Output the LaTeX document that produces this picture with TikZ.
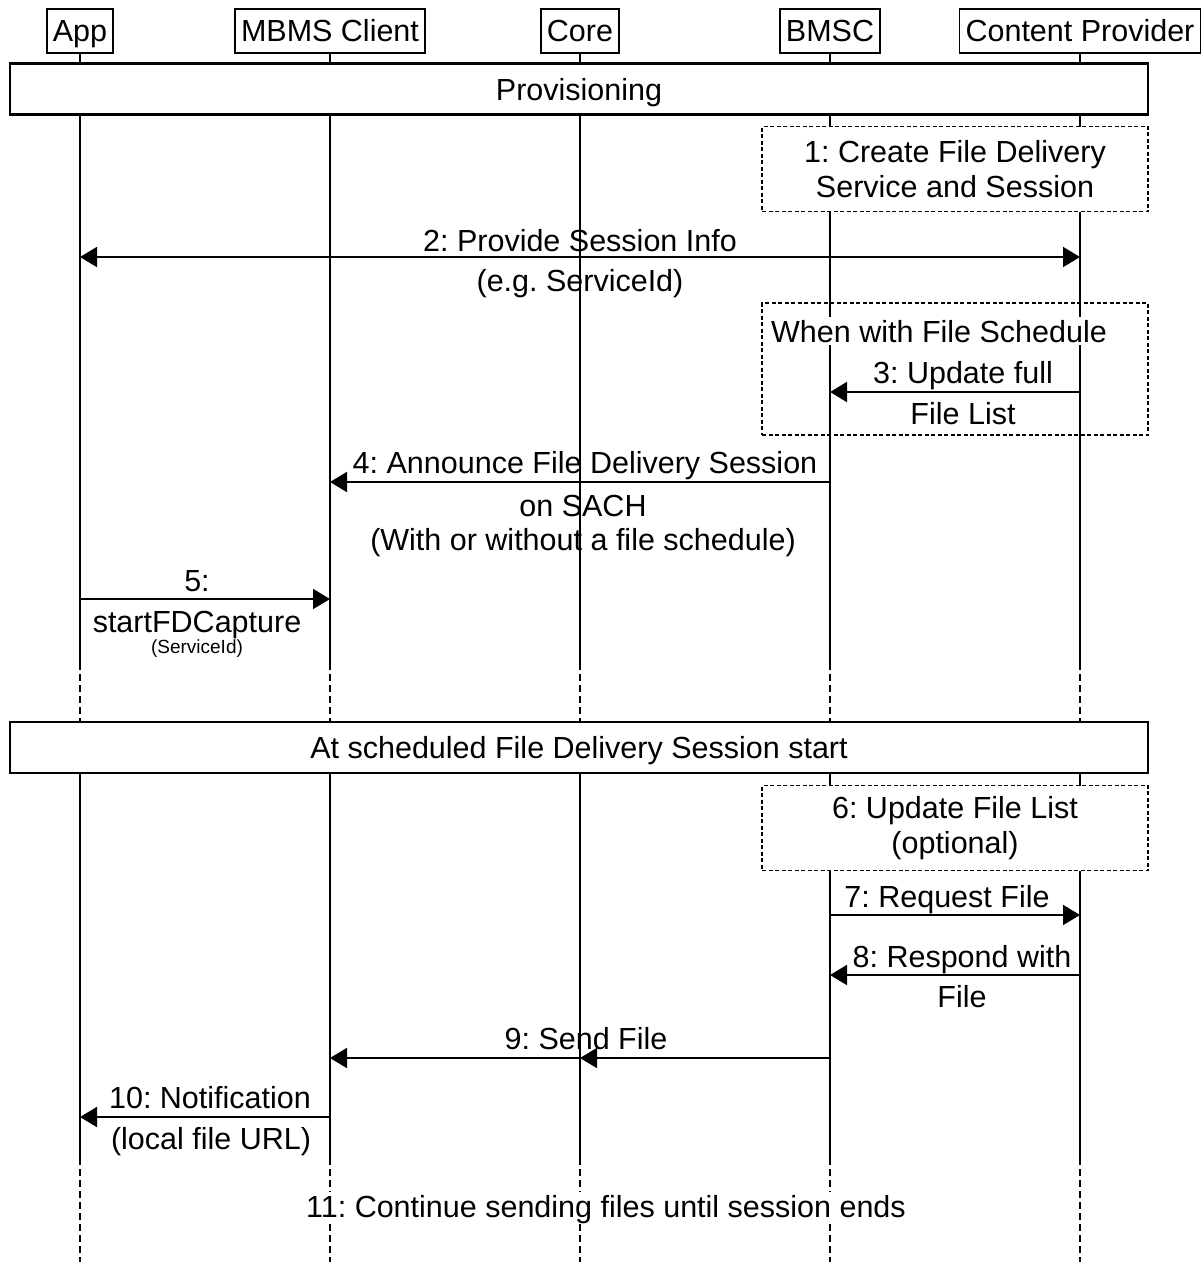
\documentclass[tikz,border=0pt]{standalone}
\usepackage{fontspec}
\setmainfont{Liberation Sans}
\frenchspacing
\usetikzlibrary{arrows.meta}
\tikzset{actor/.style={draw,line width=1.6pt,minimum height=44pt,inner xsep=6pt,inner ysep=0pt,text height=24pt,text depth=3pt,fill=white},
phase/.style={draw,line width=2.2pt,fill=white,minimum width=1138pt,minimum height=51pt,inner sep=0pt,text height=24pt,text depth=2pt},
note/.style={draw,line width=1.3pt,dash pattern=on 4pt off 2.5pt,fill=white,minimum width=386pt,minimum height=85pt,inner sep=0pt,align=center}}

\begin{document}
\begin{tikzpicture}[x=1pt,y=-1pt,every node/.style={font=\fontsize{30.5}{35}\selectfont},
	life/.style={line width=1.5pt},lifedash/.style={line width=1.5pt,dash pattern=on 7pt off 4pt},
	msg/.style={line width=1.8pt,-{Triangle[length=17pt,width=20pt]}},
	lbl/.style={inner sep=1pt,text height=24pt,text depth=2pt},small/.style={font=\fontsize{19}{22}\selectfont}]
		\useasboundingbox (0,0) rectangle (1203,1262);

		\node[actor] (app) at (80,31) {App};
		\node[actor] (client) at (330,31) {MBMS Client};
		\node[actor] (core) at (580,31) {Core};
		\node[actor] (bmsc) at (830,31) {BMSC};
		\node[actor] (cp) at (1080,31) {Content Provider};

		\coordinate (c1) at (0,663);
		\coordinate (c2) at (0,773);
		\coordinate (c3) at (0,1158);
		\coordinate (c4) at (0,1262);
		\foreach \p in {app,client,core,bmsc,cp} {
			\draw[life] (\p.south) -- (\p |- c1);
			\draw[lifedash] (\p |- c1) -- (\p |- c2);
			\draw[life] (\p |- c2) -- (\p |- c3);
			\draw[lifedash] (\p |- c3) -- (\p |- c4);
		}

		\node[phase] (prov) at (579,89) {Provisioning};
		\node[note] (n1) at (955,169) {1: Create File Delivery\\Service and Session};

		% message rows
		\coordinate (r2) at (0,257);
		\coordinate (r3) at (0,392);
		\coordinate (r4) at (0,482);
		\coordinate (r5) at (0,599);
		\coordinate (r7) at (0,915);
		\coordinate (r8) at (0,975);
		\coordinate (r9) at (0,1058);
		\coordinate (r10) at (0,1117);

		\draw[msg,{Triangle[length=17pt,width=20pt]}-{Triangle[length=17pt,width=20pt]}] (app |- r2) -- (cp |- r2);
		\node[lbl] (l2) at (580,240) {2: Provide Session Info};
		\node[lbl] (l2b) at (580,280) {(e.g. ServiceId)};

		\node[draw,line width=1.3pt,dash pattern=on 4pt off 2.5pt,minimum width=386pt,minimum height=132pt] (fs) at (955,369) {};
		\node[lbl,fill=white,anchor=west] (fst) at (770,331) {When with File Schedule};
		\draw[msg] (cp |- r3) -- (bmsc |- r3);
		\node[lbl] (l3) at (963,372) {3: Update full};
		\node[lbl] (l3b) at (963,413) {File List};

		\draw[msg] (bmsc |- r4) -- (client |- r4);
		\node[lbl] (l4) at (585,462) {4: Announce File Delivery Session};
		\node[lbl] (l4b) at (583,505) {on SACH};
		\node[lbl] (l4c) at (583,539) {(With or without a file schedule)};

		\draw[msg] (app |- r5) -- (client |- r5);
		\node[lbl] (l5) at (197,580) {5:};
		\node[lbl] (l5b) at (197,621) {startFDCapture};
		\node[small] (l5c) at (197,649) {(ServiceId)};

		\node[phase] (sched) at (579,747.5) {At scheduled File Delivery Session start};
		\node[note] (n6) at (955,828) {6: Update File List\\(optional)};

		\draw[msg] (bmsc |- r7) -- (cp |- r7);
		\node[lbl] (l7) at (947,896) {7: Request File};
		\draw[msg] (cp |- r8) -- (bmsc |- r8);
		\node[lbl] (l8) at (962,956) {8: Respond with};
		\node[lbl] (l8b) at (962,996) {File};

		\draw[msg] (bmsc |- r9) -- (core |- r9);
		\draw[msg] (core |- r9) -- (client |- r9);
		\node[lbl] (l9) at (586,1038) {9: Send File};

		\draw[msg] (client |- r10) -- (app |- r10);
		\node[lbl] (l10) at (210,1097) {10: Notification};
		\node[lbl] (l10b) at (211,1138) {(local file URL)};

		\node[lbl,fill=white] (l11) at (606,1206) {11: Continue sending files until session ends};
	\end{tikzpicture}
\end{document}
